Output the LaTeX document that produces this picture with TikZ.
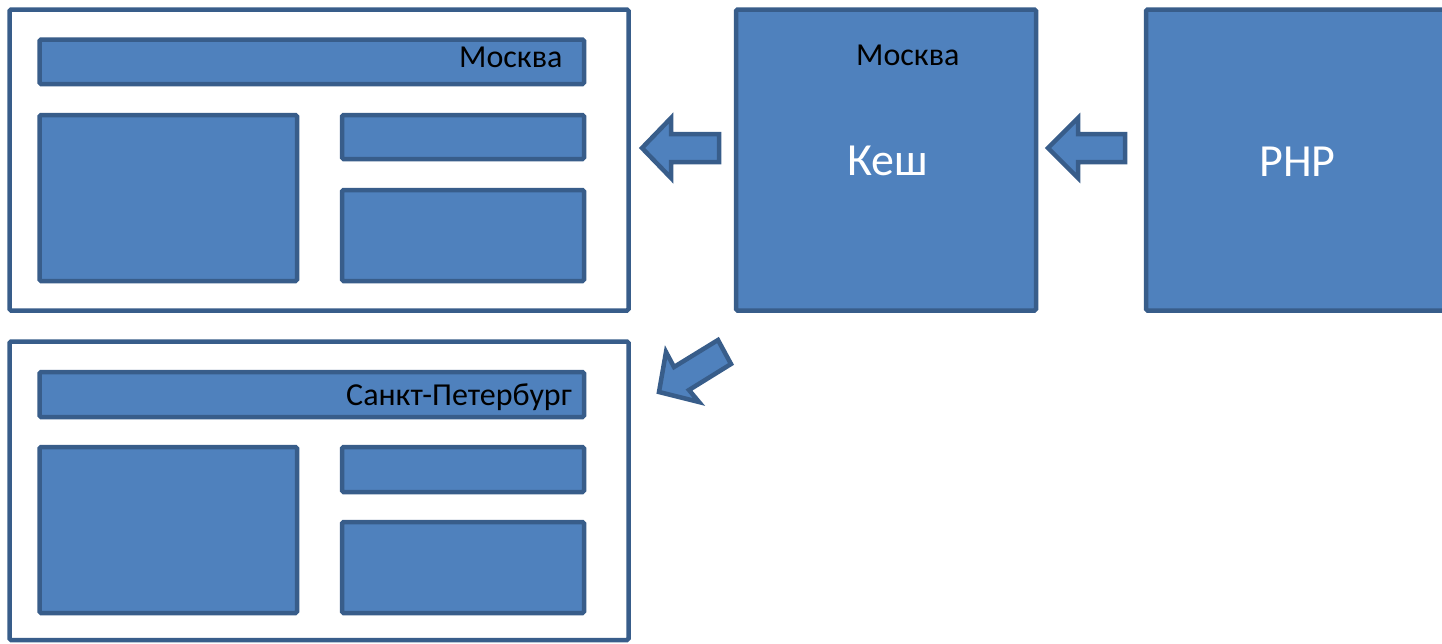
\documentclass[tikz,border=0pt]{standalone}
\usepackage{fontspec}
\setmainfont{Carlito}
\definecolor{boxfill}{HTML}{4F81BD}
\definecolor{boxline}{HTML}{385D8A}
\tikzset{
  frame/.style={draw=boxline, line width=4.5pt, fill=white, rounded corners=1.5pt, inner sep=0pt},
  blue/.style={draw=boxline, line width=4.5pt, fill=boxfill, rounded corners=1.5pt, inner sep=0pt},
  bigarrow/.style={draw=boxline, line width=4.5pt, fill=boxfill, line join=miter},
  lbl/.style={anchor=base west, inner sep=0pt, font=\fontsize{32}{38}\selectfont},
  biglbl/.style={anchor=base west, inner sep=0pt, text=white, font=\fontsize{46}{54}\selectfont}
}
\newcommand{\bx}[6]{\node[#1, minimum width=#4-#2, minimum height=#5-#3] (#6) at ({(#2+#4)/2},{(#3+#5)/2}) {};}
\begin{document}
\begin{tikzpicture}[x=1pt,y=-1pt]
\useasboundingbox (0,0) rectangle (1442,643);
\clip (0,0) rectangle (1442,643);
% top frame (Moscow)
\bx{frame}{9.5}{9.5}{628.5}{310.5}{f1}
\bx{blue}{39.5}{39.5}{584}{84}{h1}
\bx{blue}{39.5}{115}{297}{281}{l1}
\bx{blue}{342}{115}{584}{159}{s1}
\bx{blue}{342}{190}{584}{281}{r1}
% bottom frame (SPb)
\bx{frame}{9.5}{341.5}{628.5}{640}{f2}
\bx{blue}{39.5}{372}{584}{417}{h2}
\bx{blue}{39.5}{447}{297}{613}{l2}
\bx{blue}{342}{447}{584}{492}{s2}
\bx{blue}{342}{522}{584}{613}{r2}
% cache and php
\bx{blue}{736}{9.5}{1036}{310.5}{cache}
\bx{blue}{1146}{9.5}{1465}{310.5}{php}
% labels
\node[lbl] (t1) at (459,67) {Москва};
\node[lbl] (t2) at (346,405) {Санкт-Петербург};
\node[lbl] (t3) at (856,65) {Москва};
\node[biglbl] (t4) at (847,175) {Кеш};
\node[biglbl] (t5) at (1259,176) {PHP};
% arrows
\draw[bigarrow] (642,148) -- (671,118) -- (671,134) -- (719,134) -- (719,162) -- (671,162) -- (671,178) -- cycle;
\draw[bigarrow] (1048,148) -- (1078,118) -- (1078,134) -- (1125,134) -- (1125,162) -- (1078,162) -- (1078,178) -- cycle;
\draw[bigarrow] (659,392) -- (666,352) -- (674,367) -- (718,340) -- (731,364) -- (689,390) -- (699,402) -- cycle;
\end{tikzpicture}
\end{document}
